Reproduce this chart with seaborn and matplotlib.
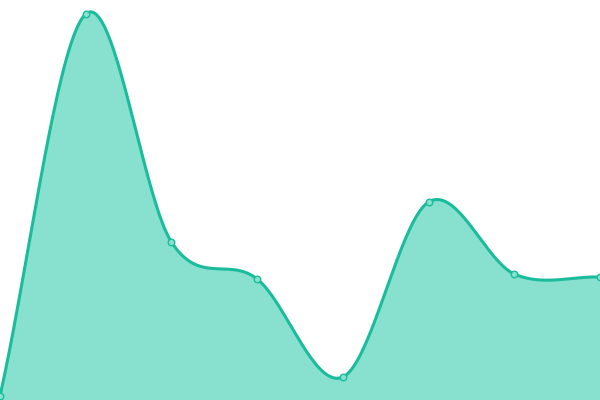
import numpy as np
import pandas as pd
import matplotlib
matplotlib.use('Agg')
import matplotlib.pyplot as plt
import seaborn as sns

# values (bottom of the plot = 0, top = 400)
xs = [0, 1, 2, 3, 4, 5, 6, 7]
values = [4, 386, 158, 121, 23, 198, 126, 123]

line_color = '#1abc9c'
fill_color = '#88e0cf'


def catmull_rom(x, y, n=40):
    # smooth curve through the points (same look as a cardinal spline)
    x = np.asarray(x, float)
    y = np.asarray(y, float)
    px = np.concatenate([[2 * x[0] - x[1]], x, [2 * x[-1] - x[-2]]])
    py = np.concatenate([[2 * y[0] - y[1]], y, [2 * y[-1] - y[-2]]])
    out_x, out_y = [], []
    t = np.linspace(0, 1, n, endpoint=False)
    for i in range(1, len(px) - 2):
        for p, out in ((px, out_x), (py, out_y)):
            p0, p1, p2, p3 = p[i - 1], p[i], p[i + 1], p[i + 2]
            seg = 0.5 * ((2 * p1) + (-p0 + p2) * t
                         + (2 * p0 - 5 * p1 + 4 * p2 - p3) * t ** 2
                         + (-p0 + 3 * p1 - 3 * p2 + p3) * t ** 3)
            out.extend(seg)
    out_x.append(x[-1])
    out_y.append(y[-1])
    return np.array(out_x), np.array(out_y)


sns.set_style('white')
fig = plt.figure(figsize=(6, 4), dpi=100)
ax = fig.add_axes([0, 0, 1, 1])

cx, cy = catmull_rom(xs, values)
smooth = pd.DataFrame({'x': cx, 'y': cy})
pts = pd.DataFrame({'x': xs, 'y': values})

ax.fill_between(cx, 0, cy, color=fill_color, linewidth=0)
sns.lineplot(data=smooth, x='x', y='y', color=line_color, linewidth=2.2,
             ax=ax, sort=False)
sns.scatterplot(data=pts, x='x', y='y', s=22, color=fill_color,
                edgecolor=line_color, linewidth=1.0, ax=ax, zorder=5,
                clip_on=True)

ax.set_xlim(0, 7)
ax.set_ylim(0, 400)
ax.axis('off')

fig.savefig('out.png', dpi=100)
